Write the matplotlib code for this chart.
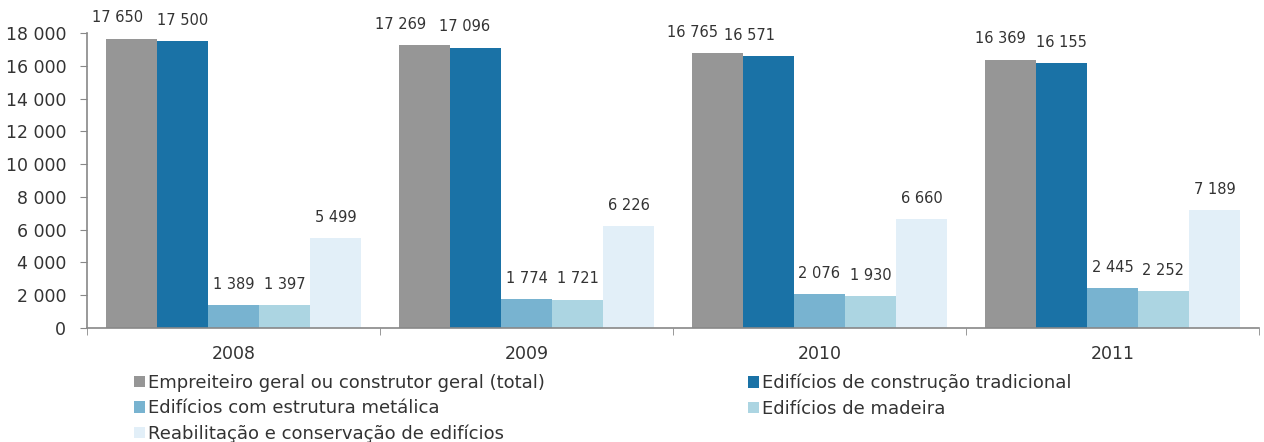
import matplotlib.pyplot as plt
import numpy as np
from matplotlib.patches import Patch

# dados
anos = ["2008", "2009", "2010", "2011"]
series = ["Empreiteiro geral ou construtor geral (total)",
          "Edifícios de construção tradicional",
          "Edifícios com estrutura metálica",
          "Edifícios de madeira",
          "Reabilitação e conservação de edifícios"]
total = [17650, 17269, 16765, 16369]
tradicional = [17500, 17096, 16571, 16155]
metalica = [1389, 1774, 2076, 2445]
madeira = [1397, 1721, 1930, 2252]
reabilitacao = [5499, 6226, 6660, 7189]
cores = ["#969696", "#1a72a6", "#78b3d0", "#acd5e2", "#e2eff8"]

valores = [total, tradicional, metalica, madeira, reabilitacao]

# pequenos deslocamentos horizontais dos rótulos (pontos) para evitar sobreposição
desloc = {0: [-10, -17, -18, -7], 1: [0, -8, -14, 0]}

plt.rcParams['font.family'] = ['DejaVu Sans']
fig = plt.figure(figsize=(12.64, 4.42), dpi=100)
ax = fig.add_axes([87/1264, 1 - 328/442, (1259 - 87)/1264, (328 - 33)/442])

x = np.arange(len(anos))
w = 0.174
for i, (vals, cor) in enumerate(zip(valores, cores)):
    pos = x + (i - 2) * w
    ax.bar(pos, vals, width=w, color=cor, linewidth=0)
    dx = desloc.get(i, [0] * len(anos))
    for j, (p, v) in enumerate(zip(pos, vals)):
        ax.annotate(f"{v:,}".replace(",", " "), (p, v), xytext=(dx[j], 15),
                    textcoords="offset points", ha="center", va="center",
                    fontsize=10.5, color="#333333", annotation_clip=False)

ax.set_xlim(-0.5, len(anos) - 0.5)
ax.set_ylim(0, 18000)
ax.set_yticks(np.arange(0, 18001, 2000))
ax.set_yticklabels([f"{v:,}".replace(",", " ") for v in range(0, 18001, 2000)],
                   fontsize=12.5, color="#333333")
ax.set_xticks(x)
ax.set_xticklabels(anos, fontsize=12.5, color="#333333")
ax.set_xticks(np.arange(-0.5, len(anos)), minor=True)
ax.tick_params(axis="x", which="major", length=0, pad=12)
ax.tick_params(axis="x", which="minor", length=5, color="#888888", direction="out")
ax.tick_params(axis="y", length=5, color="#888888", direction="out", pad=10)

for s in ["top", "right"]:
    ax.spines[s].set_visible(False)
for s in ["left", "bottom"]:
    ax.spines[s].set_color("#888888")
    ax.spines[s].set_linewidth(1.2)

fig.text(30/1264, 1 - 4/442, "N.º", fontsize=12, va="bottom", color="#333333")

# legenda em duas colunas
handles = [Patch(facecolor=c, edgecolor="none") for c in cores]
kw = dict(frameon=False, fontsize=13, handlelength=0.6, handleheight=0.6,
          handletextpad=0.2, labelspacing=0.4, borderpad=0, borderaxespad=0)
leg1 = fig.legend([handles[0], handles[2], handles[4]],
                  [series[0], series[2], series[4]],
                  loc="upper left", bbox_to_anchor=(134/1264, 1 - 374/442), **kw)
for t in leg1.get_texts():
    t.set_color("#333333")
leg2 = fig.legend([handles[1], handles[3]], [series[1], series[3]],
                  loc="upper left", bbox_to_anchor=(748/1264, 1 - 374/442), **kw)
for t in leg2.get_texts():
    t.set_color("#333333")

fig.savefig("out.png", dpi=100)
